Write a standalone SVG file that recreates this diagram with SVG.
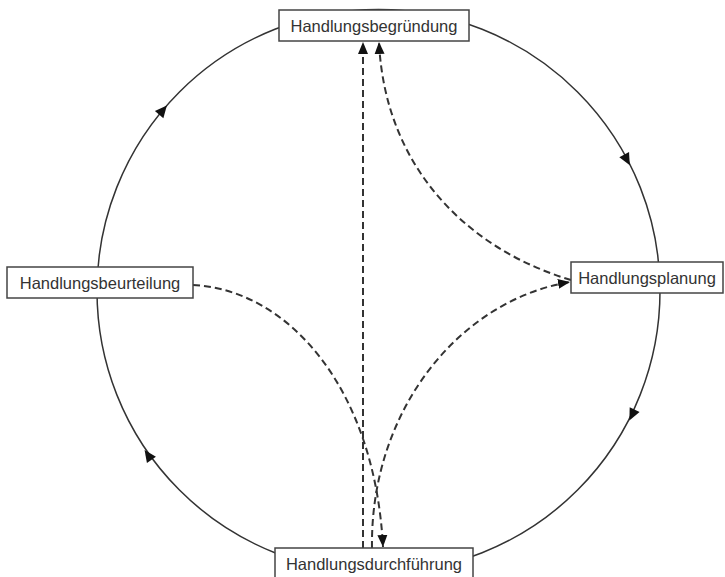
<svg xmlns="http://www.w3.org/2000/svg" width="725" height="577" viewBox="0 0 725 577">
<style>
.box{fill:#fff;stroke:#444;stroke-width:1.5}
.lbl{font-family:"Liberation Sans",Arial,sans-serif;font-size:16.5px;fill:#333;text-anchor:middle;dominant-baseline:central}
.ring{fill:none;stroke:#333;stroke-width:1.5}
.dash{fill:none;stroke:#333;stroke-width:2;stroke-dasharray:7,4}
.tri{fill:#111}
</style>
<defs>
<marker id="ah" markerWidth="12" markerHeight="12" viewBox="0 0 12 12" refX="12" refY="6" orient="auto" markerUnits="userSpaceOnUse">
<path d="M0,1 L12,6 L0,11 Z" fill="#111"/>
</marker>
</defs>
<g id="ring">
<circle class="ring" cx="378.5" cy="291" r="281.5"/>
<polygon class="tri" points="6,0 -6,-5.5 -6,5.5" transform="translate(163,110) rotate(-50)"/>
<polygon class="tri" points="6,0 -6,-5.5 -6,5.5" transform="translate(627,160) rotate(62)"/>
<polygon class="tri" points="6,0 -6,-5.5 -6,5.5" transform="translate(632,415) rotate(116)"/>
<polygon class="tri" points="6,0 -6,-5.5 -6,5.5" transform="translate(148,455) rotate(235)"/>
</g>
<g id="connectors">
<path class="dash" d="M363,548 L363,42" marker-end="url(#ah)"/>
<path class="dash" d="M571,280 C470,250 385,170 379,42" marker-end="url(#ah)"/>
<path class="dash" d="M193,285 C290,290 375,390 383,547" marker-end="url(#ah)"/>
<path class="dash" d="M372,548 C370,410 460,300 570,282" marker-end="url(#ah)"/>
</g>
<g id="n-begruendung">
<rect class="box" x="279" y="10" width="190" height="31"/>
<text class="lbl" x="374" y="25.5">Handlungsbegründung</text>
</g>
<g id="n-planung">
<rect class="box" x="571" y="262" width="152" height="31"/>
<text class="lbl" x="647" y="277.5">Handlungsplanung</text>
</g>
<g id="n-beurteilung">
<rect class="box" x="7" y="267" width="186" height="31"/>
<text class="lbl" x="100" y="282.5">Handlungsbeurteilung</text>
</g>
<g id="n-durchfuehrung">
<rect class="box" x="275" y="548" width="198" height="32"/>
<text class="lbl" x="374" y="564">Handlungsdurchführung</text>
</g>
</svg>
